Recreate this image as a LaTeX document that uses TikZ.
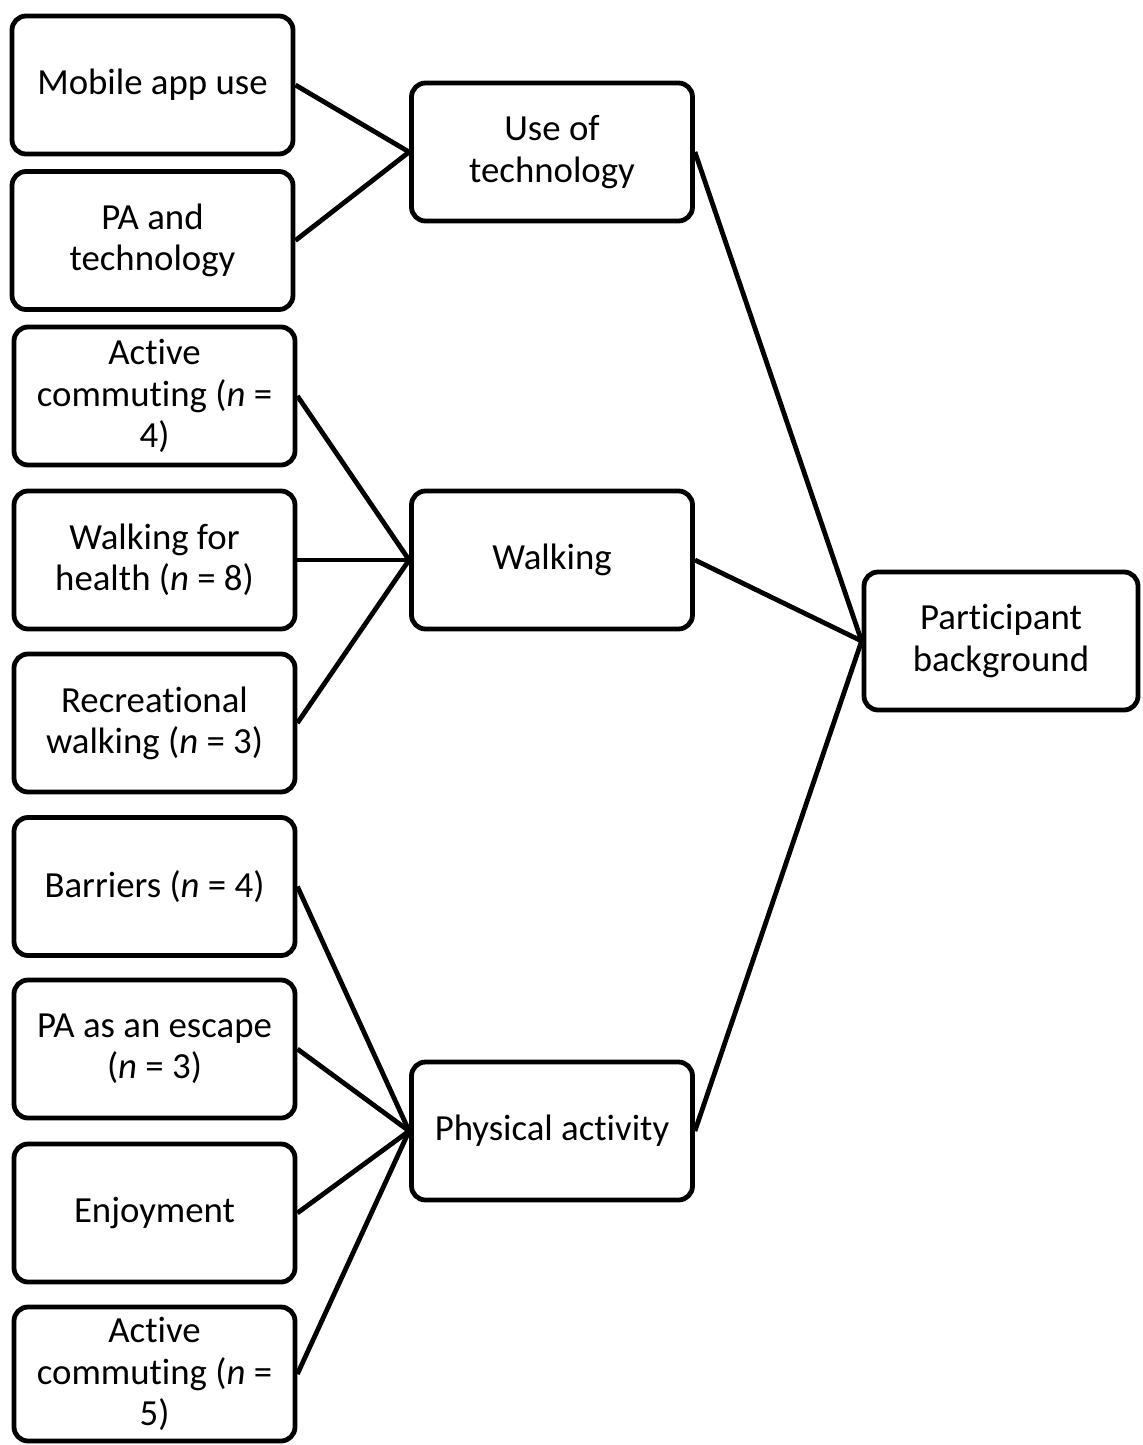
\documentclass[tikz,border=0pt]{standalone}
\usepackage{fontspec}
\setmainfont{Carlito}[Ligatures=NoCommon]
\begin{document}
\begin{tikzpicture}[x=0.5pt,y=-0.5pt,
  box/.style={draw=black, line width=2.4pt, rounded corners=7pt, fill=white,
    align=center, inner sep=0pt,
    font=\fontsize{18.4}{20.6}\selectfont,
    minimum width=140.5pt, minimum height=69pt},
  link/.style={draw=black, line width=2.4pt}]
\useasboundingbox (0,0) rectangle (1142,1445);

% first level: themes
\node[box] (mob) at (152.5,85)   {Mobile app use};
\node[box] (pat) at (152.5,240.5) {PA and\\technology};
\node[box] (ac4) at (154.5,396)  {Active\\commuting (\textit{n} =\\4)};
\node[box] (wfh) at (154.5,560)  {Walking for\\health (\textit{n} = 8)};
\node[box] (rec) at (154.5,723)  {Recreational\\walking (\textit{n} = 3)};
\node[box] (bar) at (154.5,886.5) {Barriers (\textit{n} = 4)};
\node[box] (esc) at (154.5,1049) {PA as an escape\\(\textit{n} = 3)};
\node[box] (enj) at (154.5,1213) {Enjoyment};
\node[box, minimum height=67pt] (ac5) at (154.5,1374) {Active\\commuting (\textit{n} =\\5)};

% second level: groups
\node[box] (tech) at (552,152)  {Use of\\technology};
\node[box] (walk) at (552,560)  {Walking};
\node[box] (phys) at (552,1131) {Physical activity};

% top level
\node[box, minimum width=137pt] (part) at (1001,641) {Participant\\background};

% connectors
\draw[link] (mob.east) -- (tech.west);
\draw[link] (pat.east) -- (tech.west);
\draw[link] (ac4.east) -- (walk.west);
\draw[link] (wfh.east) -- (walk.west);
\draw[link] (rec.east) -- (walk.west);
\draw[link] (bar.east) -- (phys.west);
\draw[link] (esc.east) -- (phys.west);
\draw[link] (enj.east) -- (phys.west);
\draw[link] (ac5.east) -- (phys.west);
\draw[link] (tech.east) -- (part.west);
\draw[link] (walk.east) -- (part.west);
\draw[link] (phys.east) -- (part.west);
\end{tikzpicture}
\end{document}
